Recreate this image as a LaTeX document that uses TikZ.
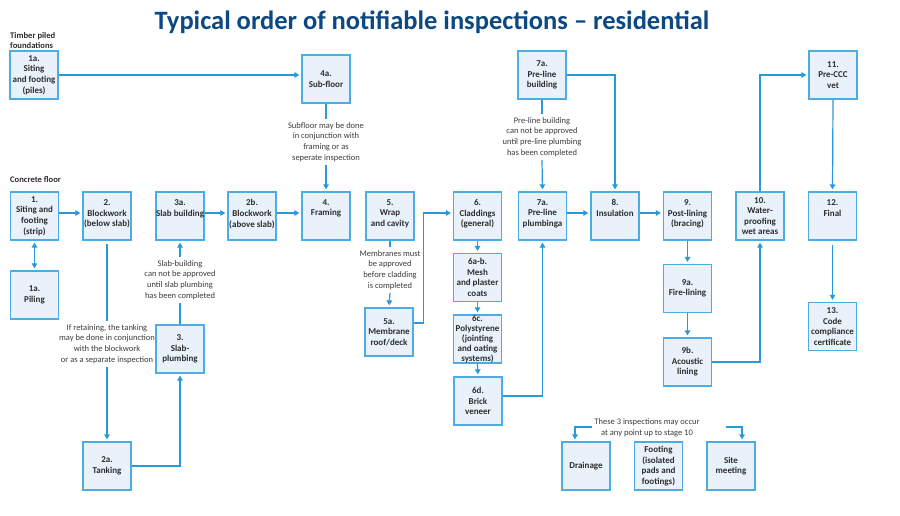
\documentclass[tikz,border=0pt]{standalone}
\usepackage{fontspec}
\setmainfont{Carlito}
\usetikzlibrary{arrows.meta,calc}
\definecolor{boxblue}{RGB}{78,172,228}
\definecolor{boxfill}{RGB}{233,241,251}
\definecolor{lineblue}{RGB}{38,154,218}
\definecolor{titleblue}{RGB}{12,72,130}
\definecolor{boxtext}{RGB}{45,45,45}
\definecolor{notetext}{RGB}{60,60,60}
\newcommand{\tp}[1]{\begin{minipage}[c][33pt][t]{48pt}\centering #1\end{minipage}}
\begin{document}
\begin{tikzpicture}[x=1pt,y=-1pt,
  box/.style={draw=boxblue, fill=boxfill, line width=1.3pt, minimum width=48pt, minimum height=48pt,
    inner sep=0pt, align=center, font=\bfseries\fontsize{9}{10.6}\selectfont, text=boxtext},
  note/.style={font=\fontsize{8.5}{10.8}\selectfont, text=notetext, align=center, inner sep=3pt},
  lbl/.style={font=\bfseries\fontsize{8.6}{10.5}\selectfont, text=boxtext, align=left, inner sep=0pt, anchor=north west},
  arr/.style={draw=lineblue, line width=1.2pt, -{Triangle[length=5pt,width=5.5pt]}, shorten >=2pt},
  dbl/.style={draw=lineblue, line width=1.2pt, {Triangle[length=5pt,width=5.5pt]}-{Triangle[length=5pt,width=5.5pt]}, shorten >=2pt, shorten <=2pt},
  ln/.style={draw=lineblue, line width=1.2pt}]
\useasboundingbox (0,0) rectangle (900,516);
\fill[white] (0,0) rectangle (900,516);

\node[font=\bfseries\fontsize{26.5}{29}\selectfont, text=titleblue, inner sep=0pt] (title) at (432,22) {Typical order of notifiable inspections – residential};

\node[lbl] (timber) at (10,32) {Timber piled\\foundations};
\node[lbl] (concrete) at (10,176) {Concrete floor};

% top row
\node[box] (t1a) at (34,75) {1a.\\Siting\\and footing\\(piles)};
\node[box] (t4a) at (326,79) {4a.\\Sub-floor};
\node[box] (b7a) at (542,75) {7a.\\Pre-line\\building};
\node[box] (n11) at (833,75) {11.\\Pre-CCC\\vet};

% main row
\node[box] (n1) at (34.5,216) {1.\\Siting and\\footing\\(strip)};
\node[box] (n2) at (107,216) {\tp{2.\\Blockwork\\(below slab)}};
\node[box] (n3a) at (180,216) {\tp{3a.\\Slab building}};
\node[box] (n2b) at (252,216) {\tp{2b.\\Blockwork\\(above slab)}};
\node[box] (n4) at (326,216) {\tp{4.\\Framing}};
\node[box] (n5) at (390,216) {\tp{5.\\Wrap\\and cavity}};
\node[box] (n6) at (477.5,216) {\tp{6.\\Claddings\\(general)}};
\node[box] (n7p) at (542.5,216) {\tp{7a.\\Pre-line\\plumbinga}};
\node[box] (n8) at (615,216) {\tp{8.\\Insulation}};
\node[box] (n9) at (687.5,216) {\tp{9.\\Post-lining\\(bracing)}};
\node[box] (n10) at (760,216) {10.\\Water-\\proofing\\wet areas};
\node[box] (n12) at (832.5,216) {\tp{12.\\Final}};

% lower boxes
\node[box] (p1a) at (34.5,295) {1a.\\Piling};
\node[box] (n3) at (180,349) {3.\\Slab-\\plumbing};
\node[box] (n2a) at (107,466) {2a.\\Tanking};
\node[box] (n5a) at (389,332) {5a.\\Membrane\\roof/deck};
\node[box] (n6ab) at (477.5,277.5) {6a-b.\\Mesh\\and plaster\\coats};
\node[box, font=\bfseries\fontsize{9}{9.9}\selectfont] (n6c) at (477.5,339) {6c.\\Polystyrene\\(jointing\\and oating\\systems)};
\node[box] (n6d) at (478,401) {6d.\\Brick\\veneer};
\node[box] (n9a) at (687.5,288.5) {9a.\\Fire-lining};
\node[box] (n9b) at (687.5,362) {9b.\\Acoustic\\lining};
\node[box] (n13) at (832.5,326.5) {13.\\Code\\compliance\\certificate};
\node[box] (drain) at (586,466) {Drainage};
\node[box] (foot) at (658.5,466) {Footing\\(isolated\\pads and\\footings)};
\node[box] (site) at (731,466) {Site\\meeting};

% notes
\node[note] (note4a) at (326,142) {Subfloor may be done\\in conjunction with\\framing or as\\seperate inspection};
\node[note] (note7a) at (542,137) {Pre-line building\\can not be approved\\until pre-line plumbing\\has been completed};
\node[note] (note3a) at (180,280) {Slab-building\\can not be approved\\until slab plumbing\\has been completed};
\node[note] (note2) at (107,344) {If retaining, the tanking\\may be done in conjunction\\with the blockwork\\or as a separate inspection};
\node[note] (note5) at (390,270) {Membranes must\\be approved\\before cladding\\is completed};
\node[note, inner sep=1pt] (note10) at (647,428) {These 3 inspections may occur\\at any point up to stage 10};

% connectors
\draw[arr] (t1a.east) -- (t1a.east -| t4a.west);
\draw[ln] (t4a.south) -- (note4a.north);
\draw[arr] (note4a.south) -- (n4.north);

\draw[arr] ([yshift=3pt]n1.east) -- ([yshift=3pt]n2.west);
\draw[dbl] (n1.south) -- (p1a.north);
\draw[ln] ([yshift=-3pt]n2.south) -- (note2.north);
\draw[arr] (note2.south) -- (n2a.north);
\draw[arr] (n2a.east) -| (n3.south);
\draw[ln] (n3.north) -- (note3a.south);
\draw[arr] (note3a.north) -- (n3a.south);
\draw[arr] ([yshift=3pt]n3a.east) -- ([yshift=3pt]n2b.west);
\draw[arr] ([yshift=3pt]n2b.east) -- ([yshift=3pt]n4.west);

\draw[ln] (n5.south) -- (note5.north);
\draw[arr] (note5.south) -- (n5a.north);
\draw[arr] ([yshift=9pt]n5a.east) -- ++(10,0) |- ([yshift=3pt]n6.west);

\draw[arr] (n6.south) -- (n6ab.north);
\draw[arr] (n6ab.south) -- (n6c.north);
\draw[arr] (n6c.south) -- (n6d.north);
\draw[arr] ([yshift=5pt]n6d.east) -| (n7p.south);

\draw[ln] (b7a.south) -- (note7a.north);
\draw[arr] (note7a.south) -- (n7p.north);
\draw[arr] (b7a.east) -| (n8.north);
\draw[arr] ([yshift=3pt]n7p.east) -- ([yshift=3pt]n8.west);
\draw[arr] ([yshift=3pt]n8.east) -- ([yshift=3pt]n9.west);

\draw[arr] (n9.south) -- (n9a.north);
\draw[arr] (n9a.south) -- (n9b.north);
\draw[arr] (n9b.east) -| (n10.south);
\draw[arr] (n10.north) |- (n11.west);
\draw[arr] (n11.south) -- (n12.north);
\draw[arr] ([yshift=-4pt]n12.south) -- (n13.north);

\coordinate (dL) at (592,427);
\coordinate (dLc) at (575,427);
\coordinate (sR) at (726,427);
\coordinate (sRc) at (742,427);
\draw[arr] (dL) -- (dLc) -- (dLc |- drain.north);
\draw[arr] (sR) -- (sRc) -- (sRc |- site.north);
\end{tikzpicture}
\end{document}
